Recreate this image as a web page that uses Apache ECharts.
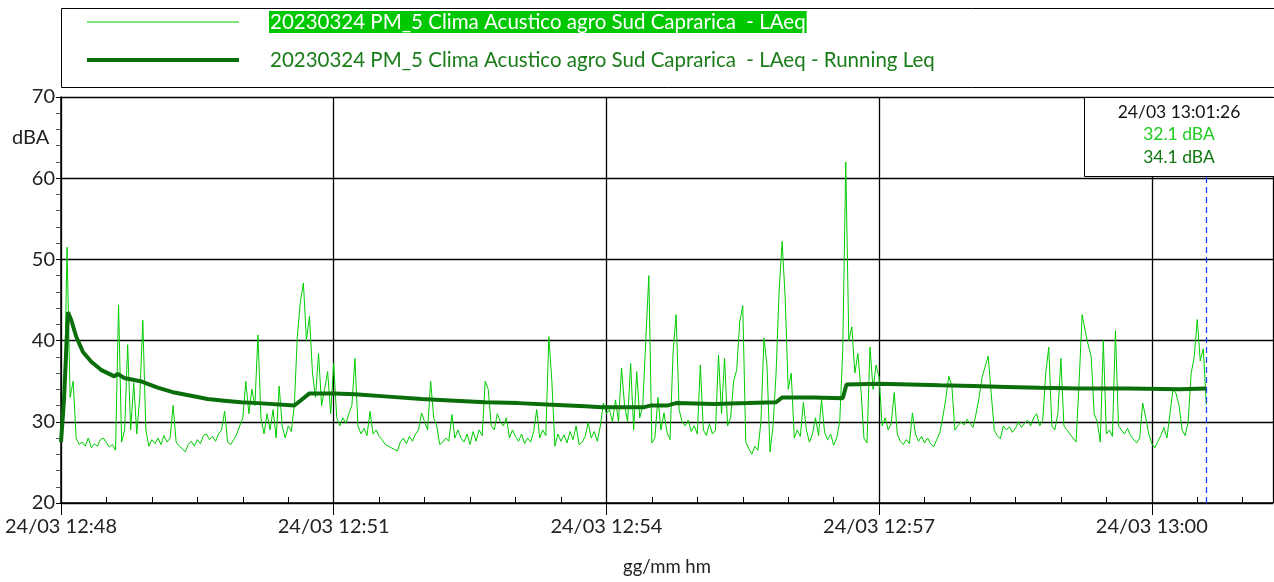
<!DOCTYPE html>
<html>
<head>
<meta charset="utf-8">
<title>LAeq - Running Leq</title>
<script src="https://cdn.jsdelivr.net/npm/echarts@6/dist/echarts.min.js"></script>
<style>
  html, body { margin: 0; padding: 0; background: #fff; }
  #chart { width: 1274px; height: 582px; }
</style>
</head>
<body>
<div id="chart"></div>
<script>
// etichette asse x (un tick ogni 3 minuti dall'inizio misura)
const tickLabels = ['24/03 12:48', '24/03 12:51', '24/03 12:54', '24/03 12:57', '24/03 13:00']

const laeqName = '20230324 PM_5 Clima Acustico agro Sud Caprarica  - LAeq'
const leqName = '20230324 PM_5 Clima Acustico agro Sud Caprarica  - LAeq - Running Leq'

// LAeq, un campione ogni 2 s
const laeqStep = 2
const laeqValues = [
  27.5, 31, 51.5, 33, 35, 28, 27.2, 27.5, 27, 28,
  26.8, 27.3, 27, 27.8, 28, 27.4, 26.9, 27.2, 26.5, 44.4,
  27.5, 29, 39.5, 29, 34.8, 28.5, 33, 42.5, 29, 27,
  27.8, 27.3, 28, 27.2, 28.3, 27.5, 28, 32, 27.5, 27,
  26.7, 26.3, 27.2, 27.6, 27, 27.8, 27.3, 28.3, 28.5, 27.8,
  28.2, 27.6, 28.5, 29, 31.3, 27.5, 27.2, 27.8, 28.5, 29.5,
  30.5, 35, 31, 34, 32, 40.7, 30.5, 28.5, 31, 29,
  31.5, 28, 34.4, 29.5, 28, 29.5, 28.8, 32, 40.5, 44.8,
  47.1, 40, 43, 36, 33, 38.4, 32, 34, 36.2, 31,
  37.2, 30.5, 29.5, 30.5, 29.8, 31, 32, 37.8, 29.5, 28.5,
  29.2, 28.3, 31.3, 28.5, 29, 28.2, 27.8, 27.2, 27, 26.8,
  26.6, 26.4, 27.5, 28, 27.3, 28.2, 27.6, 28.5, 29, 31.1,
  30, 29, 35, 30.5, 29.5, 27.2, 27.5, 28, 27.6, 30.9,
  28, 29, 28, 27.5, 28.5, 27.2, 28.8, 27.6, 29, 28.3,
  35, 34, 29.5, 29, 31, 30, 29.5, 30.5, 28, 29,
  28.2, 27.6, 28.5, 27.3, 28, 27.5, 28.8, 31.5, 28, 29,
  28.3, 40.5, 35, 27, 28.5, 27.6, 28.4, 27.4, 28.8, 27.8,
  29.5, 27.2, 27.5, 28.2, 29.9, 28, 28.8, 27.6, 29.5, 32.3,
  31, 31.5, 30, 32.7, 30, 36.6, 32, 30, 37.2, 29,
  36.2, 30.5, 32, 40, 48, 27.4, 28, 33, 29, 31.1,
  28.7, 27.8, 38.5, 43.2, 31.5, 30, 29.5, 30.2, 28.8, 29.5,
  28.5, 37, 29, 28.3, 29.8, 28.5, 29, 38.2, 31, 37.8,
  29.5, 30.5, 35, 36.4, 42.3, 44.3, 27.5, 26.7, 26, 27,
  26.5, 30, 40.3, 37, 26.3, 29.5, 36, 46.1, 52.2, 45.3,
  34, 36, 28, 29, 28.2, 32.4, 29, 27.5, 28.5, 30.5,
  28.3, 32.8, 28.7, 27.8, 28.5, 27.1, 28, 30, 38.8, 62,
  40, 41.7, 36, 38.4, 34, 28, 27.4, 39.2, 34, 37,
  35.5, 29.5, 30.5, 29, 29.8, 33.6, 28.5, 27.6, 27.2, 27.8,
  27.3, 31.1, 28.5, 27.6, 28.2, 27.4, 28, 27.3, 26.9, 27.8,
  28.6, 30.5, 32.8, 35.6, 34.5, 29, 29.5, 30, 29.6, 30.3,
  29.8, 29.3, 31, 33, 35.5, 36.8, 38.1, 33.5, 29, 28.3,
  27.9, 29.5, 29, 29.4, 28.7, 29.2, 30, 29.3, 29.8, 30.2,
  29.5, 30.5, 31, 29.5, 30.2, 36, 39.2, 29.5, 29, 31,
  37.8, 29.5, 29, 28.5, 28, 27.5, 34.8, 43.2, 41.2, 39.5,
  38, 31, 30, 27.5, 40, 28.5, 29, 28.2, 41.2, 29.5,
  29, 28.5, 29.2, 28.3, 27.8, 27.4, 28, 32.3, 30.5, 28.5,
  27.3, 26.8, 27.6, 28.3, 29.3, 28, 31, 34, 33.5, 32,
  29, 28.3, 30, 36, 38, 42.6, 37.5, 39, 32.1
]

// Running Leq (secondi dall'inizio, dBA)
const leqTimes = [
  0, 2, 4.6, 6.8, 10, 14.5, 20, 26.4, 35.2, 37.4,
  41.8, 52.4, 63.8, 74.8, 85.8, 96.8, 107.8, 118.8, 130, 154,
  158, 164, 180, 194, 216, 238, 260, 280, 302, 324,
  346, 357, 385, 389, 400, 406, 431, 453, 472, 476,
  497, 516, 518.5, 540, 580, 602, 624, 646, 672, 705,
  738, 756
]
const leqValues = [
  27.5, 32.8, 43.5, 42.5, 40.5, 38.6, 37.4, 36.4, 35.6, 35.9,
  35.4, 35, 34.2, 33.6, 33.2, 32.8, 32.6, 32.4, 32.3, 32,
  32.6, 33.5, 33.5, 33.4, 33.1, 32.8, 32.6, 32.4, 32.3, 32.1,
  31.9, 31.8, 31.8, 32.0, 32.0, 32.3, 32.2, 32.3, 32.4, 33.0,
  33.0, 32.9, 34.6, 34.7, 34.5, 34.4, 34.3, 34.2, 34.1, 34.1,
  34.0, 34.1
]

// cursore
const cursorTime = 756
const cursorLabel = '24/03 13:01:26'
const cursorLaeq = '32.1 dBA'
const cursorLeq = '34.1 dBA'

const FONT = 'Lato'
const laeqColor = '#00cc00'
const leqColor = '#0a6e0a'

const myChart = echarts.init(document.getElementById('chart'))

const option = {
  animation: false,
  textStyle: { fontFamily: FONT },
  grid: { left: 61, right: 1, top: 97, bottom: 74 },
  legend: {
    orient: 'vertical',
    left: 80,
    top: 6,
    itemWidth: 152,
    itemHeight: 26,
    itemGap: 16,
    selectedMode: false,
    // niente simbolo al centro della linea
    itemStyle: { color: 'rgba(0,0,0,0)', borderWidth: 0, opacity: 0 },
    textStyle: {
      fontFamily: FONT,
      fontSize: 20.5,
      rich: {
        sp: { width: 25 },
        hl: { backgroundColor: '#00c800', color: '#fff', fontSize: 20.5, fontFamily: FONT, lineHeight: 26, padding: [1, 1, 0, 1] },
        dk: { color: '#1a7d1a', fontSize: 20.5, fontFamily: FONT, lineHeight: 26, padding: [1, 1, 0, 1] }
      }
    },
    formatter: (name) => name === laeqName ? '{sp|}{hl|' + name + '}' : '{sp|}{dk|' + name + '}',
    data: [
      { name: laeqName, lineStyle: { width: 1 } },
      { name: leqName, lineStyle: { width: 4 } }
    ]
  },
  xAxis: [
    {
      type: 'value',
      min: 0,
      max: 800,
      interval: 180,
      name: 'gg/mm hm',
      nameLocation: 'middle',
      nameGap: 55,
      nameTextStyle: { fontSize: 18.5, color: '#222', fontFamily: FONT },
      axisLine: { lineStyle: { color: '#000', width: 1.5 } },
      axisTick: { show: true, length: 12, lineStyle: { color: '#000', width: 1 } },
      axisLabel: {
        fontSize: 20,
        color: '#222',
        margin: 14,
        showMaxLabel: false,
        formatter: (v) => tickLabels[Math.round(v / 180)] || ''
      },
      splitLine: { show: true, lineStyle: { color: '#000', width: 1.3 } }
    },
    {
      // tacche secondarie ogni 30 s, verso l'interno
      type: 'value',
      position: 'bottom',
      min: 0,
      max: 800,
      interval: 30,
      axisLine: { show: false },
      axisTick: { show: true, inside: true, length: 6, lineStyle: { color: '#000', width: 1 } },
      axisLabel: { show: false },
      splitLine: { show: false }
    }
  ],
  yAxis: {
    type: 'value',
    min: 20,
    max: 70,
    interval: 10,
    axisLine: { show: true, lineStyle: { color: '#000', width: 1.5 } },
    axisTick: { show: true, length: 5, lineStyle: { color: '#000' } },
    minorTick: { show: true, splitNumber: 5, length: 5, lineStyle: { color: '#555' } },
    axisLabel: { fontSize: 20, color: '#222', margin: 6 },
    splitLine: { show: true, lineStyle: { color: '#000', width: 1.3 } }
  },
  graphic: [
    {
      type: 'rect',
      z: 100,
      shape: { x: 61.5, y: 8.5, width: 1220, height: 79 },
      style: { fill: 'none', stroke: '#000', lineWidth: 1 }
    },
    {
      type: 'text',
      z: 100,
      left: 12,
      top: 128,
      style: { text: 'dBA', fontSize: 20, fontFamily: FONT, fill: '#222' }
    },
    {
      type: 'rect',
      z: 100,
      shape: { x: 1084.5, y: 97.5, width: 200, height: 79 },
      style: { fill: '#fff', stroke: '#000', lineWidth: 1 }
    },
    {
      type: 'text',
      z: 101,
      x: 1179,
      y: 112,
      style: { text: cursorLabel, fontSize: 17.5, fontFamily: FONT, fill: '#111', align: 'center', verticalAlign: 'middle' }
    },
    {
      type: 'text',
      z: 101,
      x: 1179,
      y: 134,
      style: { text: cursorLaeq, fontSize: 17.5, fontFamily: FONT, fill: '#22cc22', align: 'center', verticalAlign: 'middle' }
    },
    {
      type: 'text',
      z: 101,
      x: 1179,
      y: 157,
      style: { text: cursorLeq, fontSize: 17.5, fontFamily: FONT, fill: '#117711', align: 'center', verticalAlign: 'middle' }
    }
  ],
  series: [
    {
      name: laeqName,
      type: 'line',
      showSymbol: false,
      symbol: 'none',
      color: laeqColor,
      lineStyle: { width: 1, color: laeqColor },
      data: laeqValues.map((v, i) => [i * laeqStep, v]),
      markLine: {
        silent: true,
        symbol: 'none',
        label: { show: false },
        lineStyle: { color: '#1f3fff', type: [6, 4], width: 1.3 },
        data: [{ xAxis: cursorTime }]
      },
      z: 3
    },
    {
      name: leqName,
      type: 'line',
      showSymbol: false,
      symbol: 'none',
      color: leqColor,
      lineStyle: { width: 4, color: leqColor },
      data: leqTimes.map((t, i) => [t, leqValues[i]]),
      z: 4
    }
  ]
}

myChart.setOption(option)

window.addEventListener('resize', () => {
  myChart?.resize()
})
</script>
</body>
</html>
